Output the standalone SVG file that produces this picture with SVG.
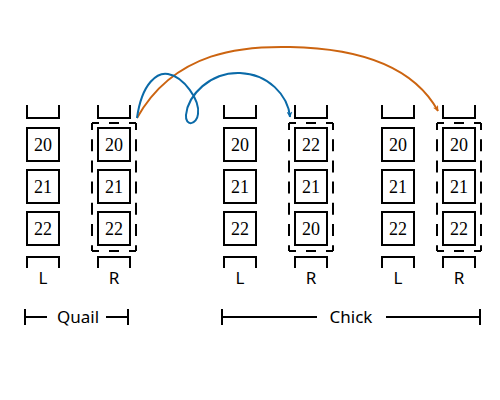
<svg xmlns="http://www.w3.org/2000/svg" width="500" height="400" viewBox="0 0 500 400">
<style>
.box{fill:#fff;stroke:#000;stroke-width:2}
.br{fill:none;stroke:#000;stroke-width:2}
.dh{fill:none;stroke:#000;stroke-width:2;stroke-dasharray:7 10 10 10 7}
.dv{fill:none;stroke:#000;stroke-width:2;stroke-dasharray:7 9.2 12 9.2 12 9.2 12 9.2 12 9.2 12 9.2 7}
.num{font-family:"Liberation Serif","DejaVu Serif",serif;font-size:18px;text-anchor:middle}
.lab{font-family:"Noto Sans","DejaVu Sans",sans-serif;font-size:17px;text-anchor:middle}
.blue{fill:none;stroke:#0a6aa8;stroke-width:2}
.orange{fill:none;stroke:#cc6410;stroke-width:2}
</style>
<defs>
<marker id="ab" viewBox="0 0 10 10" refX="9" refY="5" markerWidth="6" markerHeight="6" orient="auto" markerUnits="userSpaceOnUse"><path d="M0,0 L10,5 L0,10 L3,5 Z" fill="#0a6aa8"/></marker>
<marker id="ao" viewBox="0 0 10 10" refX="9" refY="5" markerWidth="6" markerHeight="6" orient="auto" markerUnits="userSpaceOnUse"><path d="M0,0 L10,5 L0,10 L3,5 Z" fill="#cc6410"/></marker>
</defs>

<g id="quail-L">
<path class="br" d="M27,105 V118 H59 V105"/>
<rect class="box" x="27" y="128" width="32" height="33"/><text class="num" x="43" y="151">20</text>
<rect class="box" x="27" y="170" width="32" height="33"/><text class="num" x="43" y="193">21</text>
<rect class="box" x="27" y="212" width="32" height="33"/><text class="num" x="43" y="235">22</text>
<path class="br" d="M27,268 V257 H59 V268"/>
<text class="lab" x="43" y="284">L</text>
</g>
<g id="quail-R">
<path class="br" d="M98,105 V118 H130 V105"/>
<path class="dh" d="M92,123 H136 M92,251 H136"/>
<path class="dv" d="M92,123 V251 M136,123 V251"/>
<rect class="box" x="98" y="128" width="32" height="33"/><text class="num" x="114" y="151">20</text>
<rect class="box" x="98" y="170" width="32" height="33"/><text class="num" x="114" y="193">21</text>
<rect class="box" x="98" y="212" width="32" height="33"/><text class="num" x="114" y="235">22</text>
<path class="br" d="M98,268 V257 H130 V268"/>
<text class="lab" x="114" y="284">R</text>
</g>
<g id="chick1-L">
<path class="br" d="M224,105 V118 H256 V105"/>
<rect class="box" x="224" y="128" width="32" height="33"/><text class="num" x="240" y="151">20</text>
<rect class="box" x="224" y="170" width="32" height="33"/><text class="num" x="240" y="193">21</text>
<rect class="box" x="224" y="212" width="32" height="33"/><text class="num" x="240" y="235">22</text>
<path class="br" d="M224,268 V257 H256 V268"/>
<text class="lab" x="240" y="284">L</text>
</g>
<g id="chick1-R">
<path class="br" d="M295,105 V118 H327 V105"/>
<path class="dh" d="M289,123 H333 M289,251 H333"/>
<path class="dv" d="M289,123 V251 M333,123 V251"/>
<rect class="box" x="295" y="128" width="32" height="33"/><text class="num" x="311" y="151">22</text>
<rect class="box" x="295" y="170" width="32" height="33"/><text class="num" x="311" y="193">21</text>
<rect class="box" x="295" y="212" width="32" height="33"/><text class="num" x="311" y="235">20</text>
<path class="br" d="M295,268 V257 H327 V268"/>
<text class="lab" x="311" y="284">R</text>
</g>
<g id="chick2-L">
<path class="br" d="M382,105 V118 H414 V105"/>
<rect class="box" x="382" y="128" width="32" height="33"/><text class="num" x="398" y="151">20</text>
<rect class="box" x="382" y="170" width="32" height="33"/><text class="num" x="398" y="193">21</text>
<rect class="box" x="382" y="212" width="32" height="33"/><text class="num" x="398" y="235">22</text>
<path class="br" d="M382,268 V257 H414 V268"/>
<text class="lab" x="398" y="284">L</text>
</g>
<g id="chick2-R">
<path class="br" d="M443,105 V118 H475 V105"/>
<path class="dh" d="M437,123 H481 M437,251 H481"/>
<path class="dv" d="M437,123 V251 M481,123 V251"/>
<rect class="box" x="443" y="128" width="32" height="33"/><text class="num" x="459" y="151">20</text>
<rect class="box" x="443" y="170" width="32" height="33"/><text class="num" x="459" y="193">21</text>
<rect class="box" x="443" y="212" width="32" height="33"/><text class="num" x="459" y="235">22</text>
<path class="br" d="M443,268 V257 H475 V268"/>
<text class="lab" x="459" y="284">R</text>
</g>

<g id="quail-span">
<path class="br" d="M25,309 V325 M25,317 H47 M106,317 H128 M128,309 V325"/>
<text class="lab" x="78" y="323">Quail</text>
</g>
<g id="chick-span">
<path class="br" d="M222,309 V325 M222,317 H317 M386,317 H480 M480,309 V325"/>
<text class="lab" x="351" y="323">Chick</text>
</g>

<g id="connectors">
<path class="orange" marker-end="url(#ao)" d="M137,118 C175,50 245,46 290,47 C345,48 410,60 438,111"/>
<path class="blue" marker-end="url(#ab)" d="M137,118 C142,82 158,72 168,74 C184,77 200,100 198,114 C197,125 185,127 186,115 C188,95 210,72 240,73 C268,74 288,95 290,117"/>
</g>
</svg>
